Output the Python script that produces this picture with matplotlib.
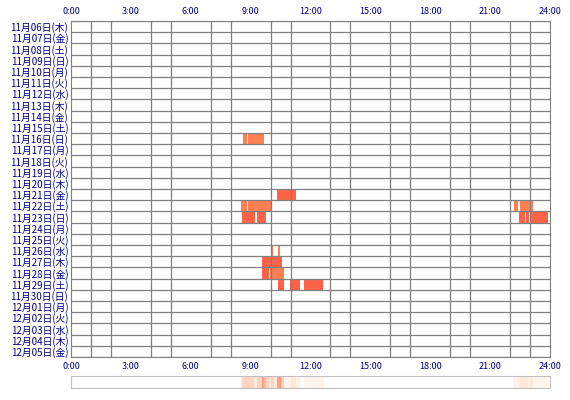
import numpy as np
import matplotlib
matplotlib.use("Agg")
import matplotlib.pyplot as plt
from matplotlib.colors import LinearSegmentedColormap
import datetime as dt

plt.rcParams['font.family'] = ['Noto Sans CJK JP', 'DejaVu Sans']

# 日付ラベル
start = dt.date(2025, 11, 6)
weekdays = ["月", "火", "水", "木", "金", "土", "日"]
dates = [start + dt.timedelta(days=i) for i in range(30)]
date_labels = [f"{d.month}月{d.day:02d}日({weekdays[d.weekday()]})" for d in dates]

# 活動時間帯 (行番号, 開始時刻, 終了時刻, 色)
C1 = "#ff7f50"
C2 = "#ff6347"
rows = [10, 10, 15, 16, 16, 16, 16, 17, 17, 17, 17, 17,
        20, 20, 21, 22, 22, 23, 23, 23]
starts = [8.6, 8.85, 10.3, 8.5, 8.85, 22.2, 22.48, 8.55, 9.3, 22.45, 22.78, 22.98,
          10.0, 10.35, 9.55, 9.55, 9.98, 10.35, 10.98, 11.65]
ends = [8.8, 9.68, 11.28, 8.8, 10.03, 22.4, 23.15, 9.2, 9.78, 22.73, 22.95, 23.9,
        10.13, 10.48, 10.58, 9.92, 10.68, 10.68, 11.48, 12.63]
colors = [C1, C1, C2, C1, C1, C1, C1, C2, C2, C2, C2, C2,
          C1, C1, C2, C2, C1, C2, C2, C2]

navy = "#000080"
fig = plt.figure(figsize=(5.7, 4.0), dpi=100)
ax = fig.add_axes([71 / 570, 1 - 357 / 400, 479 / 570, 336 / 400])
ax.set_xlim(0, 24)
ax.set_ylim(30, 0)

for r, s, e, c in zip(rows, starts, ends, colors):
    ax.barh(r + 0.5, e - s, left=s, height=1.0, color=c, linewidth=0)

ax.set_xticks(np.arange(0, 25, 1), minor=True)
ax.set_xticks(np.arange(0, 25, 3))
ax.set_xticklabels([f"{h}:00" for h in range(0, 25, 3)], color=navy, fontsize=6.5)
ax.tick_params(axis="x", which="both", length=0, labeltop=True, top=False)
ax.set_yticks(np.arange(30) + 0.5)
ax.set_yticklabels(date_labels, color=navy, fontsize=7)
ax.set_yticks(np.arange(31), minor=True)
ax.tick_params(axis="y", which="both", length=0, pad=2)
ax.grid(which="minor", color="#808080", linewidth=0.9)
ax.set_axisbelow(False)
for sp in ax.spines.values():
    sp.set_color("#808080")

# 下の集計帯
bins = np.linspace(0, 24, 24 * 12 + 1)
mid = (bins[:-1] + bins[1:]) / 2
count = np.zeros(len(mid))
for s, e in zip(starts, ends):
    count += (mid >= s) & (mid < e)
cmap = LinearSegmentedColormap.from_list("w", ["#ffffff", "#ffe2d0", "#ff9f88"])
ax2 = fig.add_axes([71 / 570, 1 - 388 / 400, 479 / 570, 12 / 400])
ax2.imshow(count[None, :], aspect="auto", cmap=cmap, vmin=0, vmax=count.max(),
           extent=[0, 24, 0, 1], interpolation="nearest")
ax2.set_xticks([])
ax2.set_yticks([])
for sp in ax2.spines.values():
    sp.set_color("#c0c0c0")

fig.savefig("out.png", dpi=100)
